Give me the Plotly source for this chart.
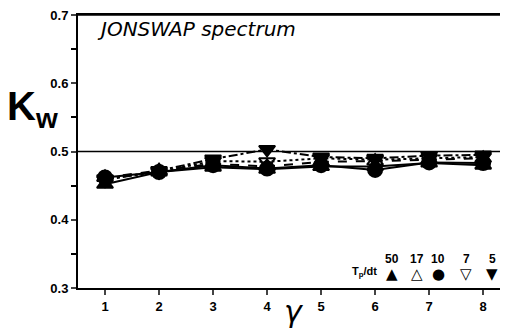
import plotly.graph_objects as go

gamma = [1, 2, 3, 4, 5, 6, 7, 8]
tp_dt_labels = ["50", "17", "10", "7", "5"]
kw_50 = [0.452, 0.470, 0.477, 0.474, 0.478, 0.478, 0.483, 0.480]
kw_17 = [0.462, 0.472, 0.482, 0.478, 0.485, 0.486, 0.488, 0.490]
kw_10 = [0.462, 0.470, 0.480, 0.475, 0.480, 0.473, 0.484, 0.483]
kw_7 = [0.460, 0.470, 0.486, 0.485, 0.490, 0.488, 0.490, 0.492]
kw_5 = [0.458, 0.472, 0.489, 0.503, 0.492, 0.490, 0.494, 0.495]
y_ticks = [0.3, 0.4, 0.5, 0.6, 0.7]

series = [
    (kw_50, "triangle-up", "solid"),
    (kw_17, "triangle-up-open", "dash"),
    (kw_10, "circle", "solid"),
    (kw_7, "triangle-down-open", "dot"),
    (kw_5, "triangle-down", "dashdot"),
]

fig = go.Figure()
for (vals, sym, dash), lab in zip(series, tp_dt_labels):
    fig.add_trace(go.Scatter(
        x=gamma, y=vals, mode="lines+markers", name=lab,
        line=dict(color="black", width=2, dash=dash),
        marker=dict(symbol=sym, size=14, color="black",
                    line=dict(color="black", width=2)),
        showlegend=False,
    ))

fig.add_hline(y=0.5, line=dict(color="black", width=1.5))
# top frame line
fig.add_shape(type="line", xref="paper", yref="paper", x0=0, x1=1, y0=1, y1=1,
              line=dict(color="black", width=1.5))

font_main = "Liberation Sans, Arial, sans-serif"

# the page body has an 8px default margin, so the figure is sized to fit
fig.update_layout(
    width=500, height=321,
    margin=dict(l=70, r=0, t=7, b=41),
    paper_bgcolor="white", plot_bgcolor="white",
    font=dict(family=font_main, color="black"),
    xaxis=dict(range=[0.5, 8.46], tickvals=gamma, ticks="outside",
               ticklen=5, tickwidth=1.5, showline=True, linecolor="black",
               linewidth=2, mirror=True, showgrid=False, zeroline=False,
               automargin=False, ticklabeloverflow="allow",
               tickfont=dict(size=13, family=font_main, weight="bold")),
    yaxis=dict(range=[0.3, 0.7], tickvals=y_ticks, tickformat=".1f",
               ticks="outside", ticklen=5, tickwidth=1.5, showline=True,
               linecolor="black", linewidth=2, showgrid=False, zeroline=False,
               automargin=False, ticklabeloverflow="allow",
               tickfont=dict(size=13, family=font_main, weight="bold"),
               minor=dict(dtick=0.05, ticks="outside", ticklen=5,
                          tickwidth=1.5, tickcolor="black")),
)

fig.add_annotation(xref="x", yref="y", x=0.82, y=0.68, xanchor="left",
                   yanchor="middle", showarrow=False,
                   text="<i>JONSWAP spectrum</i>",
                   font=dict(size=20, family="DejaVu Sans, sans-serif"))
fig.add_annotation(xref="paper", yref="y", x=-0.17, y=0.563, xanchor="left",
                   yanchor="middle", showarrow=False,
                   text="<b>K<sub>w</sub></b>",
                   font=dict(size=40, family=font_main))
fig.add_annotation(xref="x", yref="paper", x=4.5, y=-0.015, xanchor="center",
                   yanchor="top", showarrow=False, text="<i>γ</i>",
                   font=dict(size=30, family="DejaVu Sans, sans-serif"))
# legend-like annotations
sym_text = ["▲", "△", "●", "▽", "▼"]
sym_x = [6.31, 6.78, 7.17, 7.69, 8.17]
for sx, lab, st in zip(sym_x, tp_dt_labels, sym_text):
    fig.add_annotation(xref="x", yref="y", x=sx, y=0.343, showarrow=False,
                       text="<b>" + lab + "</b>",
                       font=dict(size=12, family=font_main))
    fig.add_annotation(xref="x", yref="y", x=sx, y=0.320, showarrow=False,
                       text=st, font=dict(size=15, family="DejaVu Sans"))
fig.add_annotation(xref="x", yref="y", x=5.81, y=0.323, showarrow=False,
                   text="<b>T<sub>p</sub>/dt</b>",
                   font=dict(size=11, family=font_main))

fig.write_html("out.html")
